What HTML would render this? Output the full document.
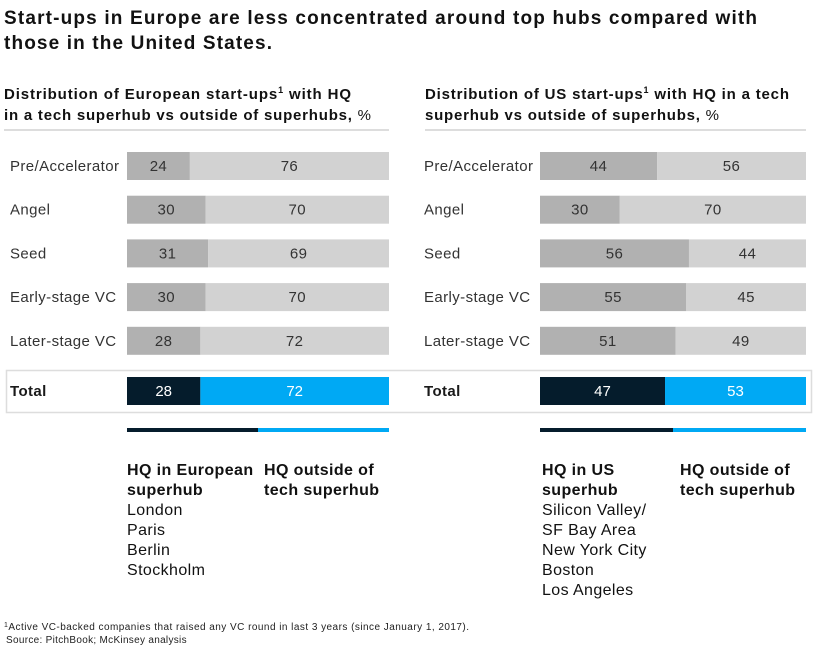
<!DOCTYPE html>
<html><head><meta charset="utf-8">
<style>
body{margin:0;background:#fff;font-family:"Liberation Sans",sans-serif;}
svg text{font-family:"Liberation Sans",sans-serif;}
</style></head>
<body>
<svg id="c" width="819" height="654" viewBox="0 0 819 654" xmlns="http://www.w3.org/2000/svg">
<text x="4" y="24" font-size="19" font-weight="bold" fill="#111" textLength="753" lengthAdjust="spacing">Start-ups in Europe are less concentrated around top hubs compared with</text>
<text x="4" y="49" font-size="19" font-weight="bold" fill="#111" textLength="268" lengthAdjust="spacing">those in the United States.</text>

<text x="4" y="99" font-size="15" font-weight="bold" fill="#111" textLength="347" lengthAdjust="spacing">Distribution of European start-ups<tspan font-size="9" dy="-6">1</tspan><tspan dy="6"> with HQ</tspan></text>
<text x="4" y="120" font-size="15" fill="#111" textLength="367" lengthAdjust="spacing"><tspan font-weight="bold">in a tech superhub vs outside of superhubs,</tspan> %</text>
<line x1="4" y1="130" x2="389" y2="130" stroke="#bbb" stroke-width="1"/>

<text x="425" y="99" font-size="15" font-weight="bold" fill="#111" textLength="364" lengthAdjust="spacing">Distribution of US start-ups<tspan font-size="9" dy="-6">1</tspan><tspan dy="6"> with HQ in a tech</tspan></text>
<text x="425" y="120" font-size="15" fill="#111" textLength="294" lengthAdjust="spacing"><tspan font-weight="bold">superhub vs outside of superhubs,</tspan> %</text>
<line x1="425" y1="130" x2="806" y2="130" stroke="#bbb" stroke-width="1"/>

<rect x="6.5" y="370.5" width="805" height="42" fill="none" stroke="#ddd" stroke-width="1.5"/>

<g id="eu"></g>
<g id="us"></g>

<g font-size="16" fill="#111" letter-spacing="0.4">
<text x="127" y="475" font-weight="bold">HQ in European</text>
<text x="127" y="495" font-weight="bold">superhub</text>
<text x="127" y="515">London</text>
<text x="127" y="535">Paris</text>
<text x="127" y="555">Berlin</text>
<text x="127" y="575">Stockholm</text>
<text x="264" y="475" font-weight="bold">HQ outside of</text>
<text x="264" y="495" font-weight="bold">tech superhub</text>
</g>
<g font-size="16" fill="#111" letter-spacing="0.4">
<text x="542" y="475" font-weight="bold">HQ in US</text>
<text x="542" y="495" font-weight="bold">superhub</text>
<text x="542" y="515">Silicon Valley/</text>
<text x="542" y="535">SF Bay Area</text>
<text x="542" y="555">New York City</text>
<text x="542" y="575">Boston</text>
<text x="542" y="595">Los Angeles</text>
<text x="680" y="475" font-weight="bold">HQ outside of</text>
<text x="680" y="495" font-weight="bold">tech superhub</text>
</g>

<text x="4" y="630" font-size="10" fill="#222" textLength="465" lengthAdjust="spacing"><tspan font-size="7" dy="-3">1</tspan><tspan dy="3">Active VC-backed companies that raised any VC round in last 3 years (since January 1, 2017).</tspan></text>
<text x="6" y="643" font-size="10" fill="#222" letter-spacing="0.3">Source: PitchBook; McKinsey analysis</text>
</svg>
<script>
const categories = ["Pre/Accelerator","Angel","Seed","Early-stage VC","Later-stage VC"];
const euHub = [24,30,31,30,28];
const euOutside = [76,70,69,70,72];
const usHub = [44,30,56,55,51];
const usOutside = [56,70,44,45,49];
const euTotal = [28,72];
const usTotal = [47,53];

const NS = "http://www.w3.org/2000/svg";
function mk(tag, attrs, parent){
  const e = document.createElementNS(NS, tag);
  for (const k in attrs) e.setAttribute(k, attrs[k]);
  parent.appendChild(e);
  return e;
}
function draw(g, prefix, labelX, x0, x1, hub, out, total){
  const scale = v => (x1 - x0) * v / 100;
  const rowY = i => 152 + i * 43.7;
  categories.forEach((c, i) => {
    const y = rowY(i), w1 = scale(hub[i]), w2 = scale(out[i]);
    const t = mk("text", {x: labelX, y: y + 19, "font-size": 15, fill: "#333", "letter-spacing": 0.4}, g);
    t.textContent = c;
    
    
    const r1 = mk("rect", {x: x0, y: y, width: w1, height: 28, fill: "#b1b1b1"}, g);
    
    
    const r2 = mk("rect", {x: x0 + w1, y: y, width: w2, height: 28, fill: "#d2d2d2"}, g);
    
    
    const v1 = mk("text", {x: x0 + w1 / 2, y: y + 19, "font-size": 15, fill: "#333", "text-anchor": "middle", "letter-spacing": 0.4}, g);
    v1.textContent = hub[i];
    
    
    const v2 = mk("text", {x: x0 + w1 + w2 / 2, y: y + 19, "font-size": 15, fill: "#333", "text-anchor": "middle", "letter-spacing": 0.4}, g);
    v2.textContent = out[i];
    
    
  });
  const ty = 377;
  const tl = mk("text", {x: labelX, y: ty + 19, "font-size": 15, "font-weight": "bold", fill: "#1a1a1a", "letter-spacing": 0.4}, g);
  tl.textContent = "Total";
  
  
  const tw1 = scale(total[0]), tw2 = scale(total[1]);
  const b1 = mk("rect", {x: x0, y: ty, width: tw1, height: 28, fill: "#051c2c"}, g);
  
  
  const b2 = mk("rect", {x: x0 + tw1, y: ty, width: tw2, height: 28, fill: "#00a9f4"}, g);
  
  
  const tv1 = mk("text", {x: x0 + tw1 / 2, y: ty + 19, "font-size": 15, fill: "#fff", "text-anchor": "middle"}, g);
  tv1.textContent = total[0];
  
  
  const tv2 = mk("text", {x: x0 + tw1 + tw2 / 2, y: ty + 19, "font-size": 15, fill: "#fff", "text-anchor": "middle"}, g);
  tv2.textContent = total[1];
  
  
  const mid = (x0 + x1) / 2;
  const l1 = mk("rect", {x: x0, y: 428, width: mid - x0, height: 4, fill: "#051c2c"}, g);
  
  
  const l2 = mk("rect", {x: mid, y: 428, width: x1 - mid, height: 4, fill: "#00a9f4"}, g);
  
  
}
draw(document.getElementById("eu"), "eu", 10, 127, 389, euHub, euOutside, euTotal);
draw(document.getElementById("us"), "us", 424, 540, 806, usHub, usOutside, usTotal);
</script>
</body></html>
